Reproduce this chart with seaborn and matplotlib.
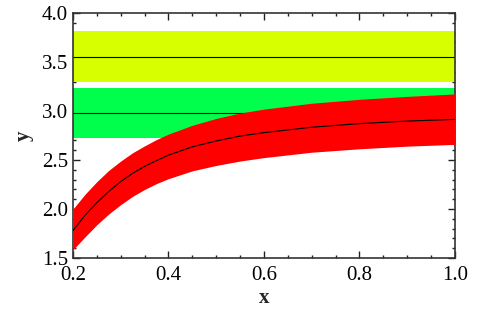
import matplotlib
matplotlib.use("Agg")
import matplotlib.pyplot as plt
import seaborn as sns
import pandas as pd
from matplotlib.ticker import MultipleLocator, FormatStrFormatter

# data
x_vals = [0.2, 0.225, 0.25, 0.275, 0.3, 0.325, 0.35, 0.375, 0.4, 0.45, 0.5, 0.55, 0.6, 0.7, 0.8, 0.9, 1.0]
red_center = [1.78, 1.935, 2.065, 2.18, 2.28, 2.365, 2.435, 2.495, 2.55, 2.635, 2.695, 2.745, 2.78, 2.835, 2.872, 2.898, 2.915]
red_upper = [2.00, 2.15, 2.28, 2.395, 2.49, 2.575, 2.645, 2.71, 2.765, 2.855, 2.925, 2.98, 3.02, 3.08, 3.12, 3.15, 3.175]
red_lower = [1.585, 1.715, 1.84, 1.95, 2.045, 2.13, 2.20, 2.26, 2.31, 2.39, 2.445, 2.49, 2.525, 2.58, 2.615, 2.642, 2.66]

band_names = ["yellow", "green"]
band_center = [3.555, 2.985]
band_low = [3.30, 2.725]
band_high = [3.82, 3.24]
band_colors = ["#d7ff00", "#00ff4c"]

sns.set_style("ticks")
plt.rcParams["font.family"] = ["Liberation Serif", "DejaVu Serif"]

fig = plt.figure(figsize=(4.85, 3.12), dpi=100)
ax = fig.add_axes([0.1505, 0.173, 0.7875, 0.785])

xmin, xmax = 0.2, 1.0
for lo, hi, c, ctr in zip(band_low, band_high, band_colors, band_center):
    ax.fill_between([xmin, xmax], [lo, lo], [hi, hi], color=c, linewidth=0, zorder=1)
    sns.lineplot(x=[xmin, xmax], y=[ctr, ctr], color="black", linewidth=0.8, ax=ax, zorder=2)

df = pd.DataFrame({"x": x_vals, "c": red_center, "u": red_upper, "l": red_lower})
ax.fill_between(df["x"], df["l"], df["u"], color="#ff0000", linewidth=0, zorder=3)
sns.lineplot(data=df, x="x", y="c", color="black", linewidth=0.8, ax=ax, zorder=4)

ax.set_xlim(0.2, 1.0)
ax.set_ylim(1.5, 4.0)
ax.xaxis.set_major_locator(MultipleLocator(0.2))
ax.xaxis.set_minor_locator(MultipleLocator(0.05))
ax.yaxis.set_major_locator(MultipleLocator(0.5))
ax.yaxis.set_minor_locator(MultipleLocator(0.1))
ax.xaxis.set_major_formatter(FormatStrFormatter("%.1f"))
ax.yaxis.set_major_formatter(FormatStrFormatter("%.1f"))
ax.tick_params(which="both", direction="in", top=True, right=True, colors="#222222",
               labelcolor="black", labelsize=15, width=1)
ax.tick_params(which="major", length=5)
ax.tick_params(which="minor", length=2.5)
ax.tick_params(axis="x", pad=6)
for s in ax.spines.values():
    s.set_linewidth(1.2)
    s.set_color("#333333")
ax.set_xlabel("x", fontsize=15, fontweight="bold", labelpad=2)
ax.set_ylabel("y", fontsize=15, fontweight="bold", labelpad=6)

fig.savefig("out.png", dpi=100)
